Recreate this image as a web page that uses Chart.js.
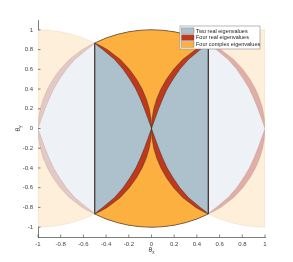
<!DOCTYPE html>
<html>
<head>
<meta charset="utf-8">
<script src="https://cdn.jsdelivr.net/npm/chart.js@4.4.1/dist/chart.umd.min.js"></script>
<style>
  html, body { margin: 0; padding: 0; background: #fff; }
  #wrap { width: 293px; height: 262px; }
</style>
</head>
<body>
<div id="wrap"><canvas id="c"></canvas></div>
<script>
const yLevels     = [0, 0.1, 0.2, 0.3, 0.4, 0.5, 0.6, 0.7, 0.8, 0.84, 0.866];
const circleEdgeX = [0, 0.005, 0.020, 0.046, 0.083, 0.132, 0.195, 0.275, 0.390, 0.450, 0.5]; // orange / red edge
const blueEdgeX   = [0, 0.031, 0.063, 0.098, 0.138, 0.190, 0.250, 0.325, 0.430, 0.475, 0.5]; // red / blue edge
// top cap of the unit circle (and of the shifted circles at x = +-1)
const capX = [0, 0.1, 0.2, 0.3, 0.4, 0.5];
const capY = [1, 0.995, 0.980, 0.954, 0.917, 0.866];

const xTicks = [-1, -0.8, -0.6, -0.4, -0.2, 0, 0.2, 0.4, 0.6, 0.8, 1];
const yTicks = [-1, -0.8, -0.6, -0.4, -0.2, 0, 0.2, 0.4, 0.6, 0.8, 1];
const legendLabels = ['Two real eigenvalues', 'Four real eigenvalues', 'Four complex eigenvalues'];
const legendColors = ['#adc1cc', '#c0391c', '#fbb040'];

const last = yLevels.length - 1;
const P = (x, y) => ({ x: x, y: y });

// polygons built from the readings
function lens(sign) {
  const pts = [];
  for (let i = capX.length - 1; i >= 0; i--) pts.push(P(-capX[i], sign * capY[i]));
  for (let i = 1; i < capX.length; i++) pts.push(P(capX[i], sign * capY[i]));
  for (let k = last; k >= 0; k--) pts.push(P(circleEdgeX[k], sign * yLevels[k]));
  for (let k = 1; k <= last; k++) pts.push(P(-circleEdgeX[k], sign * yLevels[k]));
  return pts;
}
function wedge(sx, shift, edge) {
  const pts = [];
  for (let k = 0; k <= last; k++) pts.push(P(shift + sx * edge[k], yLevels[k]));
  for (let k = last; k >= 0; k--) pts.push(P(shift + sx * edge[k], -yLevels[k]));
  return pts;
}
function band() {
  const pts = [];
  for (let i = capX.length - 1; i >= 0; i--) pts.push(P(-capX[i], capY[i]));
  for (let i = 1; i < capX.length; i++) pts.push(P(capX[i], capY[i]));
  for (let i = capX.length - 1; i >= 0; i--) pts.push(P(capX[i], -capY[i]));
  for (let i = 1; i < capX.length; i++) pts.push(P(-capX[i], -capY[i]));
  pts.push(P(-capX[capX.length - 1], capY[capX.length - 1]));
  return pts;
}
function sideCap(s) {
  const pts = [];
  for (let i = 0; i < capX.length; i++) pts.push(P(s * (-1 + capX[i]), capY[i]));
  for (let i = capX.length - 1; i >= 0; i--) pts.push(P(s * (-1 + capX[i]), -capY[i]));
  pts.push(P(-s, capY[0]));
  return pts;
}

function layer(points, fillColor, edgeColor, edgeWidth) {
  return {
    data: points, showLine: true, fill: 'shape', tension: 0,
    backgroundColor: fillColor, borderColor: edgeColor, borderWidth: edgeWidth,
    pointRadius: 0
  };
}

const rim = 'rgba(60,45,40,0.8)';
const faintRim = 'rgba(170,130,110,0.45)';

// first dataset is painted last (on top)
const datasets = [
  layer(lens(1), legendColors[2], rim, 0.6),
  layer(lens(-1), legendColors[2], rim, 0.6),
  layer(wedge(1, 0, blueEdgeX), legendColors[0], rim, 0.6),
  layer(wedge(-1, 0, blueEdgeX), legendColors[0], rim, 0.6),
  layer(band(), legendColors[1], rim, 0.6),
  layer(wedge(1, -1, blueEdgeX), '#eef2f6', faintRim, 0.5),
  layer(wedge(-1, 1, blueEdgeX), '#eef2f6', faintRim, 0.5),
  layer(wedge(1, -1, circleEdgeX), '#e2c9c5', faintRim, 0.5),
  layer(wedge(-1, 1, circleEdgeX), '#dfaea6', faintRim, 0.5),
  layer(sideCap(1), '#feefdb', 'rgba(220,190,150,0.5)', 0.5),
  layer(sideCap(-1), '#feefdb', 'rgba(220,190,150,0.5)', 0.5)
];

const tickFont = { family: 'Liberation Sans', size: 6 };

const decorations = {
  id: 'decorations',
  afterDraw(chart) {
    const { ctx, chartArea: a, scales: { x, y } } = chart;
    ctx.save();
    // inward ticks
    ctx.strokeStyle = '#333';
    ctx.lineWidth = 0.6;
    ctx.beginPath();
    xTicks.forEach(v => {
      const px = x.getPixelForValue(v);
      ctx.moveTo(px, a.bottom); ctx.lineTo(px, a.bottom - 2.5);
    });
    yTicks.forEach(v => {
      const py = y.getPixelForValue(v);
      ctx.moveTo(a.left, py); ctx.lineTo(a.left + 2.5, py);
    });
    ctx.stroke();

    // axis titles
    ctx.fillStyle = '#333';
    ctx.textBaseline = 'alphabetic';
    function title(cx, cy, sub) {
      ctx.font = '6.5px "Liberation Sans"';
      const w1 = ctx.measureText('\u03b8').width;
      ctx.font = '4.5px "Liberation Sans"';
      const w2 = ctx.measureText(sub).width;
      const x0 = cx - (w1 + w2) / 2;
      ctx.font = '6.5px "Liberation Sans"';
      ctx.textAlign = 'left';
      ctx.fillText('\u03b8', x0, cy);
      ctx.font = '4.5px "Liberation Sans"';
      ctx.fillText(sub, x0 + w1, cy + 1.5);
    }
    title((a.left + a.right) / 2, 252, 'x');
    ctx.save();
    ctx.translate(20, (a.top + a.bottom) / 2);
    ctx.rotate(-Math.PI / 2);
    title(0, 0, 'y');
    ctx.restore();

    // legend box
    const lx = 180, ly = 26, lw = 80, lh = 23;
    ctx.fillStyle = '#fff';
    ctx.fillRect(lx, ly, lw, lh);
    ctx.strokeStyle = '#8a8a8a';
    ctx.lineWidth = 0.6;
    ctx.strokeRect(lx, ly, lw, lh);
    ctx.font = '5.5px "Liberation Sans"';
    ctx.textBaseline = 'middle';
    ctx.textAlign = 'left';
    legendLabels.forEach((label, i) => {
      const cy = ly + 4.7 + i * 6.9;
      ctx.fillStyle = legendColors[i];
      ctx.fillRect(lx + 1.5, cy - 2.8, 12.5, 5.6);
      ctx.strokeStyle = 'rgba(60,45,40,0.6)';
      ctx.lineWidth = 0.4;
      ctx.strokeRect(lx + 1.5, cy - 2.8, 12.5, 5.6);
      ctx.fillStyle = '#222';
      ctx.fillText(label, lx + 16, cy + 0.3);
    });
    ctx.restore();
  }
};

new Chart(document.getElementById('c'), {
  type: 'scatter',
  data: { datasets: datasets },
  options: {
    responsive: true,
    maintainAspectRatio: false,
    animation: false,
    events: [],
    layout: { padding: { top: 20, right: 28, left: 0, bottom: 0 } },
    plugins: { legend: { display: false }, tooltip: { enabled: false } },
    scales: {
      x: {
        type: 'linear', min: -1, max: 1,
        afterBuildTicks: s => { s.ticks = xTicks.map(v => ({ value: v })); },
        afterFit: s => { s.height = 25; },
        grid: { display: true, drawOnChartArea: false, drawTicks: false },
        border: { display: true, color: '#444', width: 0.7 },
        ticks: { font: tickFont, color: '#444', padding: 4, maxRotation: 0, callback: v => String(v) }
      },
      y: {
        type: 'linear', min: -1.1, max: 1.1,
        afterBuildTicks: s => { s.ticks = yTicks.map(v => ({ value: v })); },
        afterFit: s => { s.width = 38; },
        grid: { display: true, drawOnChartArea: false, drawTicks: false },
        border: { display: true, color: '#444', width: 0.7 },
        ticks: { font: tickFont, color: '#444', padding: 5, callback: v => String(v) }
      }
    }
  },
  plugins: [decorations]
});
</script>
</body>
</html>
